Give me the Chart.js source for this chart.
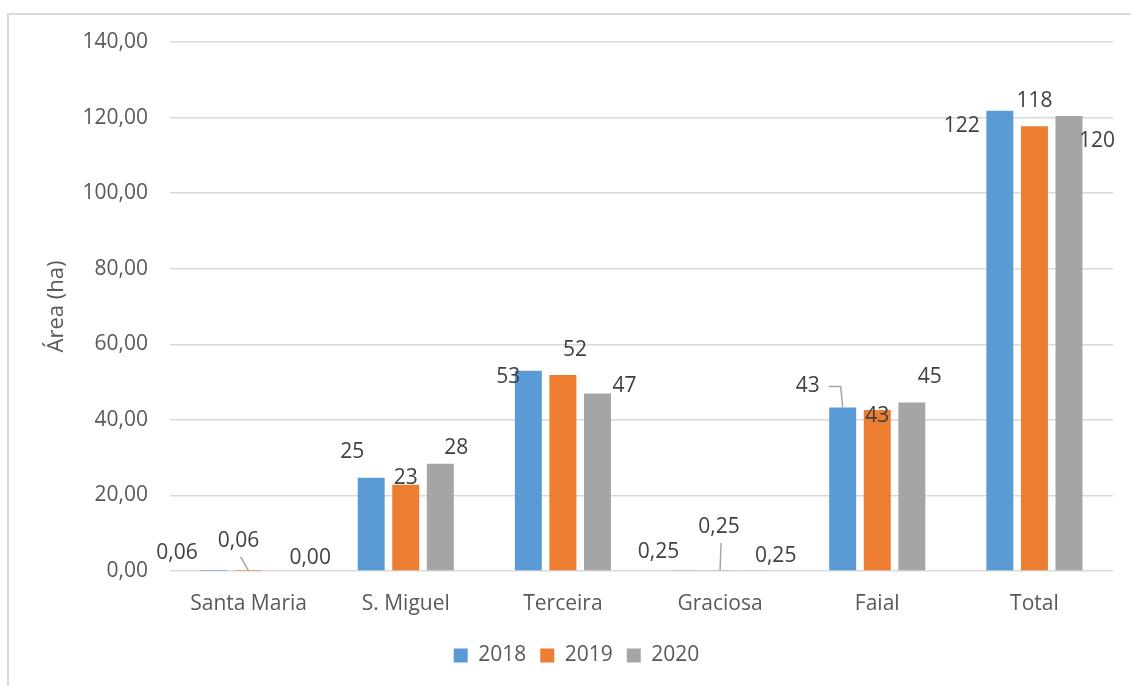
<!DOCTYPE html>
<html>
<head>
<meta charset="utf-8">
<script src="https://cdn.jsdelivr.net/npm/chart.js@4/dist/chart.umd.min.js"></script>
<style>
  body { margin: 0; background: #fff; }
  #wrap { position: relative; width: 1131px; height: 686px; overflow: hidden; }
  #frame { position: absolute; left: 7px; top: 13px; width: 1140px; height: 700px;
           border-left: 2px solid #d9d9d9; border-top: 2px solid #d9d9d9; box-sizing: border-box; }
  canvas { position: absolute; left: 0; top: 0; }
</style>
</head>
<body>
<div id="wrap">
  <div id="frame"></div>
  <canvas id="areaChart" width="1131" height="686"></canvas>
</div>
<script>
// --- data ---
const categories = ['Santa Maria', 'S. Miguel', 'Terceira', 'Graciosa', 'Faial', 'Total'];
const years = ['2018', '2019', '2020'];
const area2018 = [0.06, 24.7, 53.0, 0.25, 43.3, 121.8];
const area2019 = [0.06, 22.8, 51.9, 0.25, 42.6, 117.7];
const area2020 = [0.00, 28.4, 47.0, 0.25, 44.6, 120.4];
const yMin = 0, yMax = 140, yStep = 20;

// --- styling ---
const colors = ['#5B9BD5', '#ED7D31', '#A5A5A5'];
const textColor = '#595959';
const fontFamily = '"Open Sans", "Noto Sans", sans-serif';

// label nudges (px from bar top), as the labels were dragged in the original
const labelShift = [
  [[-37, -18], [-19, -26], [-20, 6], [-27, -18], [-35, -21], [-38, 15]],
  [[-10, -30], [0, -7], [12, -25], [-1, -43], [0, 6], [0, -25]],
  [[27, -13], [16, -16], [27, -7], [21, -14], [18, -25], [28, 25]]
];
// leader lines: dataset, index, kind
const leaders = [[1, 0, 'straight'], [1, 3, 'straight'], [0, 4, 'elbow']];

function fmtComma(v, digits) {
    return v.toFixed(digits).replace('.', ',');
}
function labelText(v) {
    return v < 1 ? fmtComma(v, 2) : String(Math.round(v));
}

const barLabels = {
    id: 'barLabels',
    afterDatasetsDraw(chart) {
        const ctx = chart.ctx;
        ctx.save();
        ctx.font = '21px ' + fontFamily;
        ctx.fillStyle = '#404040';
        ctx.textAlign = 'center';
        ctx.textBaseline = 'middle';
        chart.data.datasets.forEach((ds, d) => {
            const meta = chart.getDatasetMeta(d);
            meta.data.forEach((bar, i) => {
                const [dx, dy] = labelShift[d][i];
                ctx.fillText(labelText(ds.data[i]), bar.x + dx, bar.y + dy);
            });
        });
        // leader lines
        ctx.strokeStyle = '#a6a6a6';
        ctx.lineWidth = 1.5;
        leaders.forEach(([d, i, kind]) => {
            const bar = chart.getDatasetMeta(d).data[i];
            const [dx, dy] = labelShift[d][i];
            const lx = bar.x + dx, ly = bar.y + dy;
            ctx.beginPath();
            if (kind === 'straight') {
                ctx.moveTo(lx + 2, ly + 16);
                ctx.lineTo(bar.x, bar.y);
            } else {
                ctx.moveTo(lx + 21, ly);
                ctx.lineTo(bar.x - 2, ly);
                ctx.lineTo(bar.x, bar.y);
            }
            ctx.stroke();
        });
        ctx.restore();
    }
};

const ctx = document.getElementById('areaChart').getContext('2d');
const areaChart = new Chart(ctx, {
    type: 'bar',
    data: {
        labels: categories,
        datasets: [area2018, area2019, area2020].map((values, k) => ({
            label: years[k],
            data: values,
            backgroundColor: colors[k],
            categoryPercentage: 0.66,
            barPercentage: 0.78
        }))
    },
    options: {
        responsive: false,
        animation: false,
        layout: { padding: { left: 40, right: 18, top: 42, bottom: 10 } },
        plugins: {
            tooltip: { enabled: false },
            legend: {
                position: 'bottom',
                labels: {
                    boxWidth: 14, boxHeight: 14, padding: 14,
                    color: textColor,
                    font: { family: fontFamily, size: 21 }
                }
            }
        },
        scales: {
            x: {
                grid: { display: false },
                border: { display: false },
                ticks: { color: textColor, padding: 12, font: { family: fontFamily, size: 21 } },
                afterFit(scale) { scale.height = 60; }
            },
            y: {
                min: yMin, max: yMax,
                grid: { color: '#d9d9d9', lineWidth: 1.5, drawTicks: false },
                border: { display: false },
                ticks: {
                    stepSize: yStep, padding: 22, color: textColor,
                    font: { family: fontFamily, size: 21 },
                    callback: v => fmtComma(v, 2)
                },
                title: {
                    display: true, text: 'Área (ha)', color: textColor,
                    padding: { top: 4, bottom: 0 },
                    font: { family: fontFamily, size: 22 }
                },
                afterFit(scale) { scale.width = 130; }
            }
        }
    },
    plugins: [barLabels]
});
</script>
</body>
</html>
